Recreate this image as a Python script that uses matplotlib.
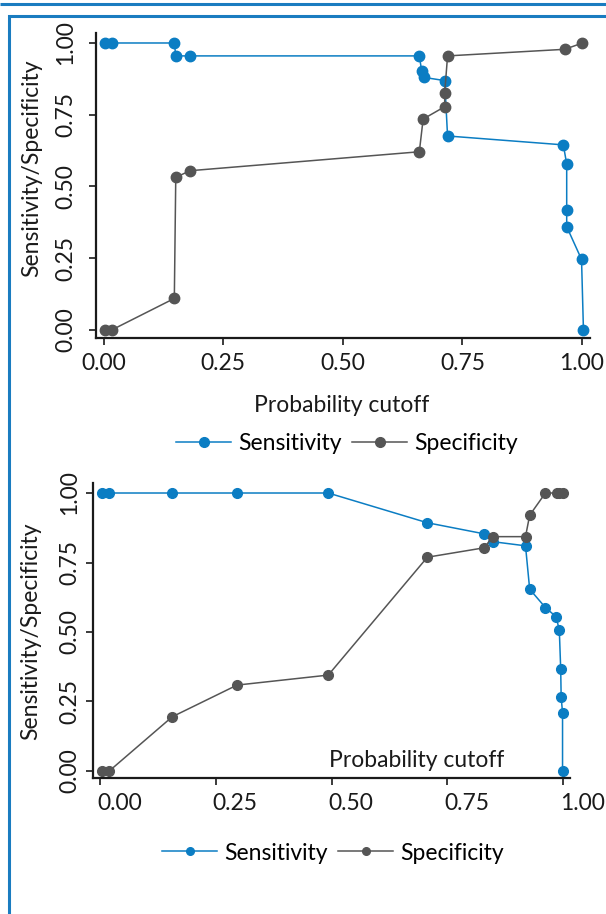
import matplotlib
matplotlib.use("Agg")
import matplotlib.pyplot as plt
from matplotlib.lines import Line2D
from matplotlib.transforms import ScaledTranslation

plt.rcParams['font.family'] = ['Lato', 'DejaVu Sans']

# panel 1 (top)
cut_top_sens = [0.003, 0.017, 0.148, 0.151, 0.181, 0.660, 0.665, 0.670, 0.713, 0.719,
                0.961, 0.968, 0.968, 0.968, 0.999, 1.003]
sens_top = [1.0, 1.0, 1.0, 0.955, 0.955, 0.955, 0.902, 0.880, 0.869, 0.676,
            0.645, 0.578, 0.418, 0.360, 0.246, 0.0]
cut_top_spec = [0.003, 0.017, 0.148, 0.151, 0.181, 0.660, 0.668, 0.713, 0.713, 0.719,
                0.964, 1.001]
spec_top = [0.0, 0.0, 0.110, 0.532, 0.555, 0.621, 0.735, 0.778, 0.825, 0.955,
            0.978, 1.0]

# panel 2 (bottom)
cut_bot_sens = [0.004, 0.020, 0.156, 0.296, 0.493, 0.707, 0.830, 0.848, 0.919, 0.928,
                0.962, 0.985, 0.992, 0.995, 0.996, 0.999, 0.999]
sens_bot = [1.0, 1.0, 1.0, 1.0, 1.0, 0.893, 0.853, 0.825, 0.810, 0.654,
            0.588, 0.555, 0.507, 0.368, 0.265, 0.210, 0.0]
cut_bot_spec = [0.004, 0.020, 0.156, 0.296, 0.493, 0.707, 0.830, 0.848, 0.919, 0.928,
                0.962, 0.986, 0.992, 0.999]
spec_bot = [0.0, 0.0, 0.195, 0.309, 0.345, 0.769, 0.803, 0.843, 0.843, 0.920,
            1.0, 1.0, 1.0, 1.0]

ticks = [0, 0.25, 0.5, 0.75, 1.0]
tick_labels = ['0.00', '0.25', '0.50', '0.75', '1.00']

BLUE = '#0b7dc3'
GRAY = '#555555'
FRAME = '#1a7cc0'
TXT = '#1a1a1a'
W, H = 606, 914
FS = 16.5

fig = plt.figure(figsize=(W / 100, H / 100), dpi=100)


def frac(x, y):
    return x / W, 1 - y / H


def make_axes(left, top, right, bottom):
    return fig.add_axes([left / W, 1 - bottom / H, (right - left) / W, (bottom - top) / H])


def style(ax, xlim, ylim, ypad):
    ax.set_xlim(*xlim)
    ax.set_ylim(*ylim)
    for s in ['top', 'right']:
        ax.spines[s].set_visible(False)
    for s in ['left', 'bottom']:
        ax.spines[s].set_linewidth(1.6)
        ax.spines[s].set_color(TXT)
    ax.set_xticks(ticks)
    ax.set_yticks(ticks)
    ax.set_xticklabels(tick_labels, fontsize=FS, color=TXT)
    ax.set_yticklabels(tick_labels, fontsize=FS, color=TXT, rotation=90, va='center')
    ax.tick_params(axis='both', direction='out', length=5, width=1.2, color=TXT)
    ax.tick_params(axis='y', pad=ypad)
    ax.tick_params(axis='x', pad=6)


# top panel
ax1 = make_axes(96, 33, 590, 338)
ax1.plot(cut_top_sens, sens_top, '-o', color=BLUE, lw=1.1, ms=7.5)
ax1.plot(cut_top_spec, spec_top, '-o', color=GRAY, lw=1.1, ms=7.5)
style(ax1, (-0.0157, 1.0167), (-0.0279, 1.0348), 9)

# bottom panel
ax2 = make_axes(93, 483, 570, 778)
ax2.plot(cut_bot_sens, sens_bot, '-o', color=BLUE, lw=1.1, ms=7)
ax2.plot(cut_bot_spec, spec_bot, '-o', color=GRAY, lw=1.1, ms=7)
style(ax2, (-0.0151, 1.0151), (-0.0252, 1.036), 4)
# the bottom panel's x labels start at their tick instead of being centred
shift = ScaledTranslation(-3 / 100, 0, fig.dpi_scale_trans)
for lab in ax2.get_xticklabels():
    lab.set_horizontalalignment('left')
    lab.set_transform(lab.get_transform() + shift)

# axis titles
fig.text(*frac(32, 168), 'Sensitivity/Specificity', rotation=90, ha='center', va='center',
         fontsize=FS, color=TXT)
fig.text(*frac(31, 631), 'Sensitivity/Specificity', rotation=90, ha='center', va='center',
         fontsize=FS, color=TXT)
fig.text(*frac(342, 412), 'Probability cutoff', ha='center', va='baseline',
         fontsize=FS, color=TXT)
fig.text(*frac(417, 767), 'Probability cutoff', ha='center', va='baseline',
         fontsize=FS, color=TXT)


# legends
def legend(center, ms):
    handles = [Line2D([], [], color=BLUE, marker='o', lw=1.1, ms=ms),
               Line2D([], [], color=GRAY, marker='o', lw=1.1, ms=ms)]
    fig.legend(handles, ['Sensitivity', 'Specificity'], loc='center', ncol=2,
               bbox_to_anchor=frac(*center), frameon=False, fontsize=FS,
               handlelength=2.4, handletextpad=0.3, columnspacing=0.45,
               borderpad=0, borderaxespad=0)


legend((347, 444), 7)
legend((333, 853), 5.5)

# blue frame lines
frame = fig.add_axes([0, 0, 1, 1], facecolor='none')
frame.set_xlim(0, W)
frame.set_ylim(H, 0)
frame.axis('off')
frame.plot([0, W], [4, 4], color=FRAME, lw=2.2, solid_capstyle='butt')
frame.plot([W, 8.5, 8.5], [15.5, 15.5, H], color=FRAME, lw=2.2, solid_joinstyle='miter')

fig.savefig('out.png', dpi=100)
